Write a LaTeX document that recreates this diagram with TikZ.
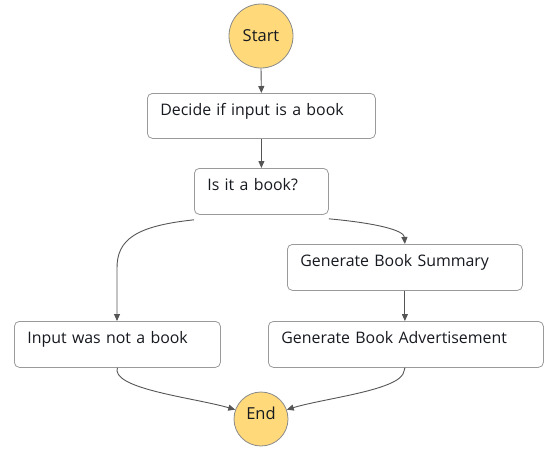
\documentclass[tikz,border=0pt]{standalone}
\usepackage{fontspec}
\setmainfont{Open Sans}
\usetikzlibrary{arrows.meta}
\definecolor{circfill}{HTML}{FFD97A}
\definecolor{circline}{HTML}{8A8A8A}
\definecolor{boxline}{HTML}{9A9A9A}
\definecolor{arrowc}{HTML}{555555}
\definecolor{txt}{HTML}{16191F}
\begin{document}
\begin{tikzpicture}[x=1pt,y=-1pt,
  every node/.style={font=\fontsize{15.9}{18}\selectfont, text=txt},
  term/.style={circle, draw=circline, fill=circfill, line width=0.8pt, inner sep=0pt},
  stepbox/.style={draw=boxline, line width=0.8pt, rounded corners=5pt, anchor=north west,
     inner xsep=13pt, inner ysep=0pt, text height=22pt, text depth=24pt, align=left},
  conn/.style={draw=arrowc, line width=0.9pt, -{Triangle[length=7pt,width=6pt]}}]
\useasboundingbox (0,0) rectangle (553,459);
\node[term, minimum size=64pt, font=\fontsize{16.5}{18}\selectfont] (start) at (261,36) {Start};
\node[term, minimum size=54pt, font=\fontsize{16.5}{18}\selectfont, text height=10pt, text depth=10pt] (end) at (261,419) {End};
\node[stepbox, text width=202pt, text depth=23pt] (decide) at (147,93) {Decide if input is a book};
\node[stepbox, text width=108pt] (isbook) at (194,168) {Is it a book?};
\node[stepbox, text width=209pt] (summary) at (287,244) {Generate Book Summary};
\node[stepbox, text width=180pt] (notbook) at (14,321) {Input was not a book};
\node[stepbox, text width=249pt] (advert) at (268,321) {Generate Book Advertisement};
\draw[conn] (start.south) -- (decide.north);
\draw[conn] (decide.south) -- (isbook.north);
\draw[conn] ([yshift=-5pt]isbook.south west) .. controls (135,226) and (117,240) .. (117,268) -- (notbook.north -| 117,0);
\draw[conn] ([yshift=-4pt]isbook.south east) .. controls (375,223) and (404,230) .. (summary.north);
\draw[conn] (summary.south) -- (summary.south |- advert.north);
\draw[conn] (notbook.south) -- (117,371) .. controls (120,390) and (195,398) .. (end.160);
\draw[conn] (advert.south -| summary.south) -- (404,371) .. controls (402,390) and (325,398) .. (end.20);
\end{tikzpicture}
\end{document}
